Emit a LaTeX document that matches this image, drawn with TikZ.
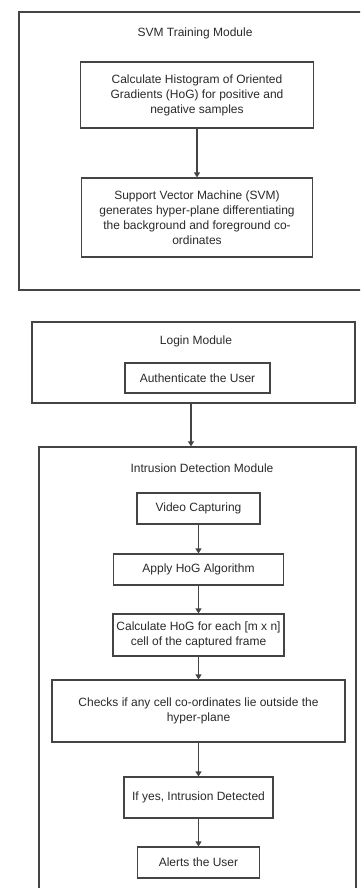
\documentclass[tikz,border=0pt]{standalone}
\usepackage{fontspec}
\setmainfont{Liberation Sans}
\usetikzlibrary{arrows.meta}
\definecolor{ln}{HTML}{444444}
\definecolor{tx}{HTML}{2A2A2A}
\tikzset{
  box/.style={draw=ln, line width=1.1pt, rectangle, inner sep=0pt, align=center, text=tx,
    font=\fontsize{12}{15}\selectfont},
  outer/.style={draw=ln, line width=1.3pt, rectangle, inner sep=0pt},
  ttl/.style={text=tx, inner sep=0pt, font=\fontsize{12}{15}\selectfont},
  arr/.style={draw=ln, line width=1.1pt, -{Triangle[length=5pt,width=6pt]}},
}
\begin{document}
\begin{tikzpicture}[x=1pt,y=-1pt]
\path[use as bounding box] (0,0) rectangle (360,888);
\clip (0,0) rectangle (360,888);
\fill[white] (0,0) rectangle (360,888);
% SVM training module
\node[outer, minimum width=347pt, minimum height=278pt] (svm) at (192.5,151) {};
\node[ttl] (svmt) at (195,33) {SVM Training Module};
\node[box, minimum width=233pt, minimum height=66pt] (hog) at (197,95)
  {Calculate Histogram of Oriented\\Gradients (HoG) for positive and\\negative samples};
\node[box, minimum width=231pt, minimum height=79pt] (svmb) at (197,217.5)
  {Support Vector Machine (SVM)\\generates hyper-plane differentiating\\the background and foreground co-\\ordinates};
\draw[arr] (hog) -- (svmb);
% Login module
\node[outer, minimum width=323pt, minimum height=81pt] (login) at (193.5,362.5) {};
\node[ttl] (logint) at (196,341) {Login Module};
\node[box, minimum width=145pt, minimum height=30pt] (auth) at (197.5,378) {Authenticate the User};
% Intrusion detection module
\node[outer, minimum width=317pt, minimum height=453pt] (intr) at (197.5,673.5) {};
\node[ttl] (intrt) at (202,468) {Intrusion Detection Module};
\coordinate (lo) at (191,403);
\draw[arr] (lo) -- (lo |- intr.north);
\node[box, minimum width=123pt, minimum height=31pt] (video) at (198.5,508.5) {Video Capturing};
\node[box, minimum width=170pt, minimum height=31pt] (apply) at (198.5,569.5) {Apply HoG Algorithm};
\node[box, minimum width=171pt, minimum height=42pt] (calc) at (198.5,635)
  {Calculate HoG for each [m x n]\\cell of the captured frame};
\node[box, minimum width=293pt, minimum height=62pt] (check) at (198.5,711)
  {Checks if any cell co-ordinates lie outside the\\hyper-plane};
\node[box, minimum width=149pt, minimum height=41pt] (ifyes) at (198.5,797.5) {If yes, Intrusion Detected};
\node[box, minimum width=122pt, minimum height=31pt] (alert) at (198.5,862.5) {Alerts the User};
\draw[arr] (video) -- (apply);
\draw[arr] (apply) -- (calc);
\draw[arr] (calc) -- (check);
\draw[arr] (check) -- (ifyes);
\draw[arr] (ifyes) -- (alert);
\end{tikzpicture}
\end{document}
